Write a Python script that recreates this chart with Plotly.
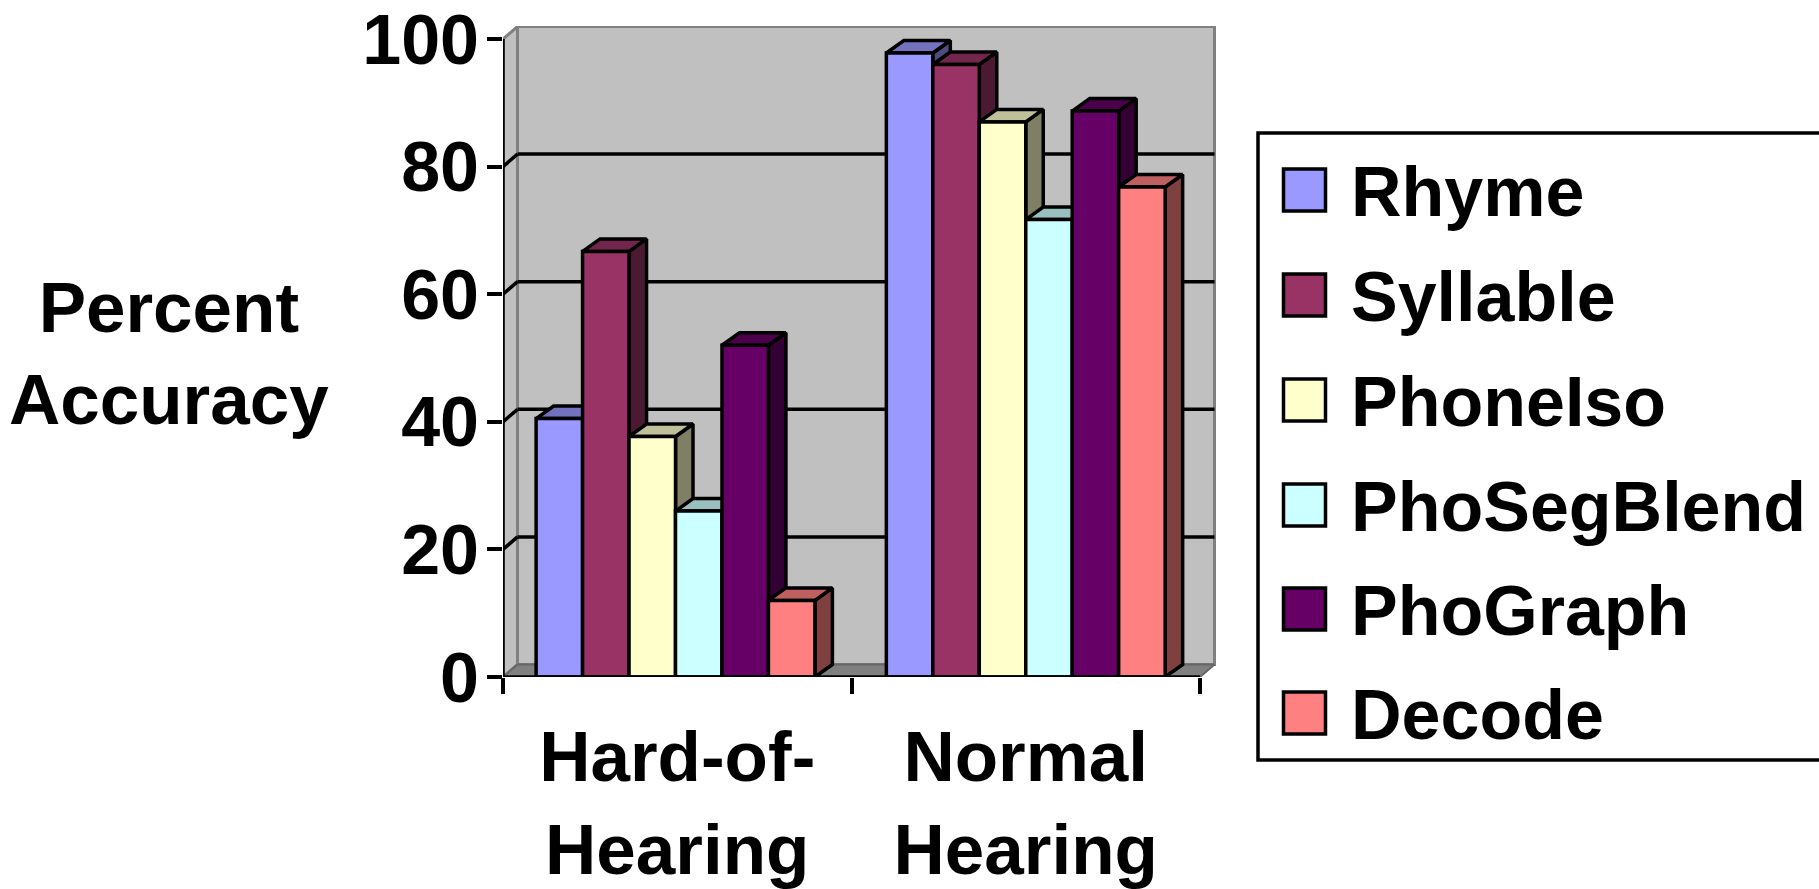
import plotly.graph_objects as go

CATEGORIES = ["Hard-of-<br>Hearing", "Normal<br>Hearing"]
SERIES = ["Rhyme", "Syllable", "PhoneIso", "PhoSegBlend", "PhoGraph", "Decode"]
RHYME = [40.5, 97.8]
SYLLABLE = [66.7, 96]
PHONEISO = [37.7, 87]
PHOSEGBLEND = [26, 71.7]
PHOGRAPH = [52, 88.7]
DECODE = [12, 76.8]
VALUES = [RHYME, SYLLABLE, PHONEISO, PHOSEGBLEND, PHOGRAPH, DECODE]
COLORS = ["#9999FF", "#993366", "#FFFFCC", "#CCFFFF", "#660066", "#FF8080"]
Y_TICKS = [0, 20, 40, 60, 80, 100]

W, H = 1819, 889
X0, X_END, Y0, Y_TOP = 503, 1217, 677, 26
PX_X, PX_Y = 348.5, 6.38
WALL_DX, WALL_DY = 14.5 / PX_X, 12.5 / PX_Y
BAR_DX, BAR_DY = 17.5 / PX_X, 12.5 / PX_Y
BAR_W = 0.8 / 6
CENTERS = [0.495, 1.5]
FONT = "Liberation Sans"
LW = 3.5


def shade(c, f):
    return "#" + "".join(f"{int(int(c[i:i+2], 16) * f):02X}" for i in (1, 3, 5))


def poly(xs, ys, fill, line, lw, z):
    return go.Scatter(x=xs, y=ys, mode="lines", fill="toself", fillcolor=fill,
                      line=dict(color=line, width=lw), zorder=z, cliponaxis=False,
                      showlegend=False, hoverinfo="skip")


def seg(xs, ys, color, lw, z):
    return go.Scatter(x=xs, y=ys, mode="lines", line=dict(color=color, width=lw), zorder=z,
                      cliponaxis=False, showlegend=False, hoverinfo="skip")


fig = go.Figure()
# walls and floor
fig.add_trace(poly([WALL_DX, 2 + WALL_DX, 2 + WALL_DX, WALL_DX, WALL_DX],
                   [WALL_DY, WALL_DY, 100 + WALL_DY, 100 + WALL_DY, WALL_DY], "#C0C0C0", "#808080", 3, 0))
fig.add_trace(poly([0, WALL_DX, WALL_DX, 0, 0], [0, WALL_DY, 100 + WALL_DY, 100, 0], "#C0C0C0", "#808080", 3, 0))
fig.add_trace(poly([0, 2, 2 + WALL_DX, WALL_DX, 0], [0, 0, WALL_DY, WALL_DY, 0], "#808080", "#666666", 2, 0))
for t in Y_TICKS[1:-1]:
    fig.add_trace(seg([WALL_DX, 2 + WALL_DX], [t + WALL_DY, t + WALL_DY], "#000000", LW, 1))
    fig.add_trace(seg([0, WALL_DX], [t, t + WALL_DY], "#000000", LW, 1))

# bars: real bars for the fronts, depth faces derived from the same values
for i, (name, vals, col) in enumerate(zip(SERIES, VALUES, COLORS)):
    z = 2 + 2 * i
    off = -0.4 + i * BAR_W
    for c, v in zip(CENTERS, vals):
        l, r = c + off, c + off + BAR_W
        fig.add_trace(poly([r, r + BAR_DX, r + BAR_DX, r, r], [0, BAR_DY, v + BAR_DY, v, 0],
                           shade(col, 0.5), "#000000", LW, z))
        fig.add_trace(poly([l, r, r + BAR_DX, l + BAR_DX, l], [v, v, v + BAR_DY, v + BAR_DY, v],
                           shade(col, 0.75), "#000000", LW, z))
    fig.add_trace(go.Bar(x=CENTERS, y=vals, width=BAR_W, offset=off, name=name, zorder=z + 1,
                         marker=dict(color=col, line=dict(color="#000000", width=LW)),
                         cliponaxis=False, showlegend=False))

# front axis lines
fig.add_trace(seg([0, 0], [0, 100], "#000000", LW, 20))
fig.add_trace(seg([0, 2], [0, 0], "#000000", LW, 20))

# legend drawn on a hidden pixel-scaled overlay
LEG_X, LEG_TXT = 1304.5, 1351
LEG_Y = [190, 295, 400, 505, 609, 713]
LEG_TXT_SHIFT = 8
fig.add_trace(go.Scatter(x=[LEG_X] * 6, y=LEG_Y, xaxis="x2", yaxis="y2", mode="markers",
                         marker=dict(symbol="square", size=42, color=COLORS,
                                     line=dict(color="#000000", width=LW)),
                         showlegend=False, hoverinfo="skip"))
fig.add_trace(go.Scatter(x=[LEG_TXT] * 6, y=[v + LEG_TXT_SHIFT for v in LEG_Y], xaxis="x2", yaxis="y2",
                         mode="text", text=SERIES, textposition="middle right",
                         textfont=dict(family=FONT, size=70, color="#000000", weight=700),
                         cliponaxis=False, showlegend=False, hoverinfo="skip"))

fig.update_layout(
    template="none",
    width=W, height=H, autosize=False, margin=dict(l=0, r=0, t=0, b=0, autoexpand=False),
    paper_bgcolor="#FFFFFF", plot_bgcolor="rgba(0,0,0,0)", showlegend=False,
    font=dict(family=FONT, size=72, color="#000000"),
    xaxis=dict(domain=[X0 / W, X_END / W], range=[0, (X_END - X0) / PX_X], anchor="y", automargin=False,
               tickmode="array", tickvals=[0.5, 1.5], ticktext=CATEGORIES,
               ticks="outside", ticklen=16, tickwidth=1, tickcolor="rgba(0,0,0,0)", ticklabelstandoff=2,
               tickfont=dict(family=FONT, size=71, color="#000000", weight=700),
               showgrid=False, zeroline=False, showline=False,
               minor=dict(tickmode="array", tickvals=[0, 1, 2], ticks="outside", ticklen=16,
                          tickwidth=LW, tickcolor="#000000", showgrid=False)),
    yaxis=dict(domain=[1 - Y0 / H, 1 - Y_TOP / H], range=[0, (Y0 - Y_TOP) / PX_Y], anchor="x", automargin=False,
               tickmode="array", tickvals=Y_TICKS, ticks="outside", ticklen=15, tickwidth=LW,
               tickcolor="#000000", ticklabelstandoff=-6,
               tickfont=dict(family=FONT, size=70, color="#000000", weight=700),
               showgrid=False, zeroline=False, showline=False),
    xaxis2=dict(domain=[0, 1], range=[0, W], anchor="y2", visible=False),
    yaxis2=dict(domain=[0, 1], range=[H, 0], anchor="x2", visible=False),
    annotations=[dict(text="Percent<br>Accuracy", xref="paper", yref="paper", x=169 / W, y=1 - 353 / H,
                      xanchor="center", yanchor="middle", showarrow=False, align="center",
                      font=dict(family=FONT, size=71, color="#000000", weight=700))],
    shapes=[dict(type="rect", xref="x2", yref="y2", x0=1258, x1=1840, y0=133, y1=760,
                 line=dict(color="#000000", width=LW), fillcolor="#FFFFFF", layer="below")],
)
fig.write_html("out.html", config={"displayModeBar": False},
               post_script="document.body.style.margin='0';document.body.style.overflow='hidden';")
